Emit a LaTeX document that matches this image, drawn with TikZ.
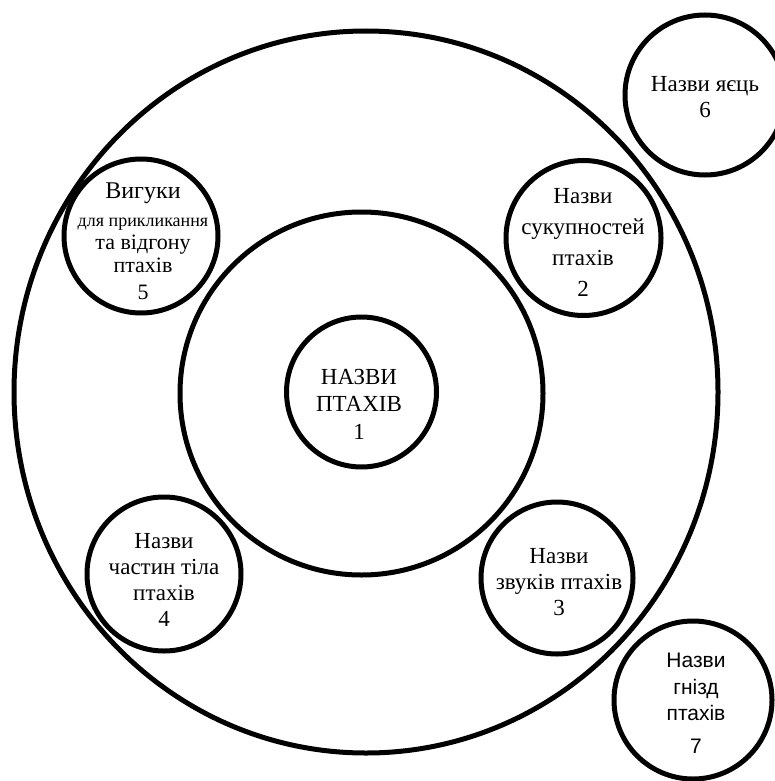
\documentclass[tikz,border=0pt]{standalone}
\usepackage{fontspec}
\setmainfont{Liberation Serif}
\newfontfamily\sansfnt{Liberation Sans}
\usetikzlibrary{shapes.geometric}
\begin{document}
\begin{tikzpicture}[x=1pt,y=-1pt,
  ring/.style={draw, line width=5pt, circle, inner sep=0pt},
  txt/.style={inner sep=0pt, align=center, anchor=north, font=\fontsize{23}{26}\selectfont}
]
\path[use as bounding box, fill=white] (0,0) rectangle (774,781);
% rings
\node[draw, line width=5pt, ellipse, inner sep=0pt, minimum width=704pt, minimum height=722pt] (outer) at (366,392) {};
\node[ring, minimum size=363pt] (middle) at (361.5,393.5) {};
\node[ring, minimum size=150pt] (c1) at (361.5,392) {};
\node[ring, minimum size=155pt] (c2) at (583.5,238) {};
\node[ring, minimum size=152pt] (c3) at (557,578) {};
\node[ring, minimum size=154pt] (c4) at (164,574) {};
\node[ring, minimum size=154pt] (c5) at (141,236) {};
\node[ring, minimum size=160pt] (c6) at (705,95) {};
\node[ring, minimum size=158pt] (c7) at (693,700) {};
% texts
\node[txt, font=\fontsize{23}{27.5}\selectfont] (t1) at (359,368.8) {НАЗВИ\\ПТАХІВ\\1};
\node[txt, font=\fontsize{23}{31.3}\selectfont] (t2) at (583,187.8) {Назви\\сукупностей\\птахів\\2};
\node[txt, font=\fontsize{23}{26}\selectfont] (t3) at (559,547.8) {Назви\\звуків птахів\\3};
\node[txt, font=\fontsize{23}{26.3}\selectfont] (t4) at (164,532.8) {Назви\\частин тіла\\птахів\\4};
\node[txt, font=\fontsize{22}{24}\selectfont] (t5) at (143,183) {{\fontsize{24}{24}\selectfont Вигуки}\\[4pt]{\fontsize{18}{24}\selectfont для прикликання}\\[-1pt]та відгону\\[-1pt]птахів\\[3pt]5};
\node[txt, font=\fontsize{23}{26}\selectfont] (t6) at (705,75.8) {Назви яєць\\6};
\node[txt, font=\sansfnt\fontsize{21}{26.5}\selectfont] (t7) at (696,653) {Назви\\гнізд\\птахів\\[6pt]7};
\end{tikzpicture}
\end{document}
